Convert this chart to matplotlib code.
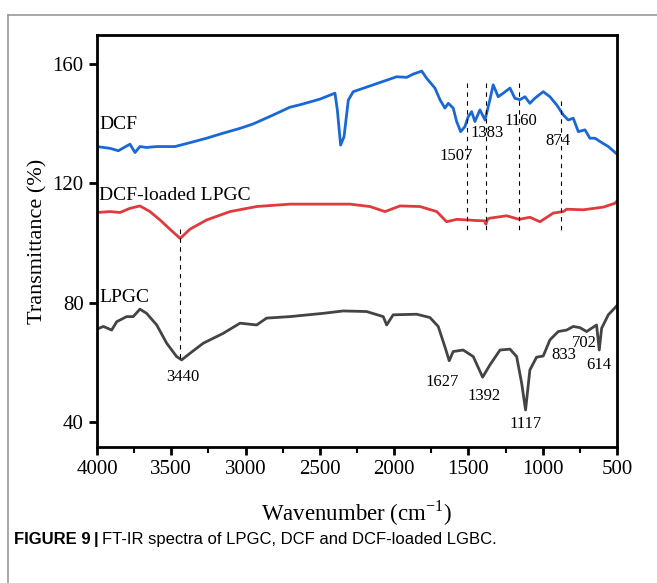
import matplotlib.pyplot as plt
from matplotlib.lines import Line2D
from matplotlib.ticker import MultipleLocator

# wavenumber (cm-1) and transmittance (%)
wn_dcf = [4000, 3912, 3856, 3778, 3744, 3711, 3666, 3598, 3475, 3374, 3262, 3150,
          3037, 2948, 2813, 2701, 2634, 2499, 2398, 2382, 2360, 2337, 2308, 2275,
          2140, 1983, 1915, 1871, 1814, 1781, 1725, 1691, 1658, 1635, 1602, 1579,
          1552, 1523, 1512, 1501, 1478, 1456, 1422, 1388, 1355, 1333, 1299, 1265,
          1220, 1187, 1153, 1119, 1086, 1052, 996, 951, 906, 861, 828, 794, 760,
          715, 682, 648, 614, 558, 507, 500]
t_dcf = [132.3, 131.7, 130.9, 133.1, 130.3, 132.3, 132.0, 132.3, 132.3, 133.6, 135.1, 136.8,
         138.4, 139.9, 142.9, 145.5, 146.3, 148.2, 150.2, 144.6, 132.8, 135.6, 147.9, 150.7,
         153.0, 155.7, 155.5, 156.6, 157.6, 155.2, 151.9, 148.0, 145.2, 146.8, 145.2, 140.7,
         137.3, 139.0, 140.7, 142.3, 144.0, 140.7, 144.6, 141.2, 148.0, 153.0, 149.0, 150.2,
         151.9, 148.5, 148.0, 149.0, 146.8, 148.5, 150.7, 149.0, 146.3, 142.9, 141.2, 141.8, 137.3,
         137.9, 135.1, 135.1, 134.0, 132.3, 130.1, 129.8]

wn_load = [4000, 3912, 3845, 3778, 3711, 3643, 3576, 3509, 3440, 3374, 3262, 3105,
           2925, 2701, 2477, 2297, 2163, 2061, 1960, 1826, 1713, 1646, 1579, 1507,
           1444, 1390, 1382, 1370, 1355, 1242, 1158, 1086, 1018, 929, 861, 838, 727,
           592, 513, 500]
t_load = [110.2, 110.5, 110.2, 111.6, 112.4, 110.5, 107.7, 104.6, 101.5, 104.6, 107.7, 110.5,
          112.2, 113.0, 113.0, 113.0, 112.2, 110.5, 112.4, 112.2, 110.5, 107.1, 107.9, 107.7,
          107.5, 107.4, 106.3, 108.0, 108.3, 109.1, 107.9, 108.6, 107.1, 110.0, 110.5, 111.3, 111.1,
          112.0, 113.3, 114.0]

wn_lpgc = [4000, 3957, 3901, 3867, 3800, 3756, 3711, 3666, 3598, 3531, 3464, 3430,
           3374, 3284, 3150, 3037, 2925, 2858, 2701, 2477, 2342, 2185, 2073, 2050,
           2006, 1848, 1759, 1703, 1658, 1629, 1602, 1535, 1467, 1404, 1355, 1287,
           1220, 1175, 1141, 1115, 1086, 1041, 996, 951, 895, 838, 794, 749, 704,
           637, 619, 603, 558, 507, 500]
t_lpgc = [71.1, 72.0, 70.8, 73.6, 75.3, 75.3, 77.8, 76.4, 72.5, 66.4, 61.9, 60.8,
          63.0, 66.4, 69.7, 73.1, 72.5, 74.8, 75.3, 76.4, 77.2, 77.0, 75.3, 72.5,
          75.9, 76.1, 75.0, 72.0, 65.2, 60.5, 63.6, 64.1, 61.9, 55.0, 59.1, 64.1,
          64.4, 61.9, 52.9, 44.0, 57.4, 61.7, 62.1, 67.5, 70.3, 70.8, 72.0, 71.6, 70.3,
          72.5, 64.1, 71.4, 75.9, 78.6, 79.0]

# marked bands: (wavenumber, line top)
dcf_marks = [1507, 1383, 1160, 874]
dcf_tops = [153.5, 153.5, 153.5, 147.5]
dcf_label = ['1507', '1383', '1160', '874']
dcf_lx = [1583, 1375, 1146, 897]
dcf_ly = [129.0, 137.0, 140.7, 134.0]

lpgc_label = ['3440', '1627', '1392', '1117', '833', '702', '614']
lpgc_lx = [3420, 1674, 1397, 1116, 856, 722, 620]
lpgc_ly = [55.0, 53.5, 48.8, 39.3, 62.4, 66.6, 59.1]

plt.rcParams['font.family'] = 'Liberation Serif'

fig = plt.figure(figsize=(6.57, 5.83), dpi=100)
ax = fig.add_axes([0.1476, 0.2333, 0.7914, 0.7067])

ax.plot(wn_dcf, t_dcf, color='#1a68d8', lw=2.0)
ax.plot(wn_load, t_load, color='#e03a3e', lw=2.0)
ax.plot(wn_lpgc, t_lpgc, color='#444444', lw=2.0)

for w, top in zip(dcf_marks, dcf_tops):
    ax.plot([w, w], [top, 103.3], color='black', ls=(0, (4, 4)), lw=0.8)
ax.plot([3440, 3440], [104.5, 61.0], color='black', ls=(0, (4, 4)), lw=0.8)

for s, x, y in zip(dcf_label, dcf_lx, dcf_ly):
    ax.text(x, y, s, fontsize=12, ha='center', va='center')
for s, x, y in zip(lpgc_label, lpgc_lx, lpgc_ly):
    ax.text(x, y, s, fontsize=12, ha='center', va='center')

ax.text(3985, 139.6, 'DCF', fontsize=14, ha='left', va='center')
ax.text(3985, 116.0, 'DCF-loaded LPGC', fontsize=14, ha='left', va='center')
ax.text(3985, 81.6, 'LPGC', fontsize=14, ha='left', va='center')

ax.set_xlim(4000, 500)
ax.set_ylim(31.6, 169.7)
ax.set_xticks([4000, 3500, 3000, 2500, 2000, 1500, 1000, 500])
ax.xaxis.set_minor_locator(MultipleLocator(250))
ax.set_yticks([40, 80, 120, 160])
ax.tick_params(axis='both', which='major', direction='out', length=6, width=2,
               labelsize=15)
ax.tick_params(axis='x', which='minor', direction='out', length=4, width=1.5)
for sp in ax.spines.values():
    sp.set_linewidth(2)

ax.set_xlabel('Wavenumber (cm$^{\\mathregular{-1}}$)', fontsize=16.5, labelpad=14)
ax.set_ylabel('Transmittance (%)', fontsize=16, labelpad=4)

# page frame and caption
fig.add_artist(Line2D([8 / 657, 8 / 657], [0, 1 - 15 / 583], color='#999999', lw=1.2))
fig.add_artist(Line2D([8 / 657, 1], [1 - 15 / 583, 1 - 15 / 583], color='#999999', lw=1.2))
fig.text(14 / 657, 0.074, 'FIGURE 9', fontsize=12, fontweight='bold',
         family='Liberation Sans', va='center', ha='left')
fig.text(94 / 657, 0.074, '|', fontsize=12, fontweight='bold',
         family='Liberation Sans', va='center', ha='left')
fig.text(102 / 657, 0.074, 'FT-IR spectra of LPGC, DCF and DCF-loaded LGBC.', fontsize=12,
         family='Liberation Sans', va='center', ha='left')

fig.savefig('out.png', dpi=100)
